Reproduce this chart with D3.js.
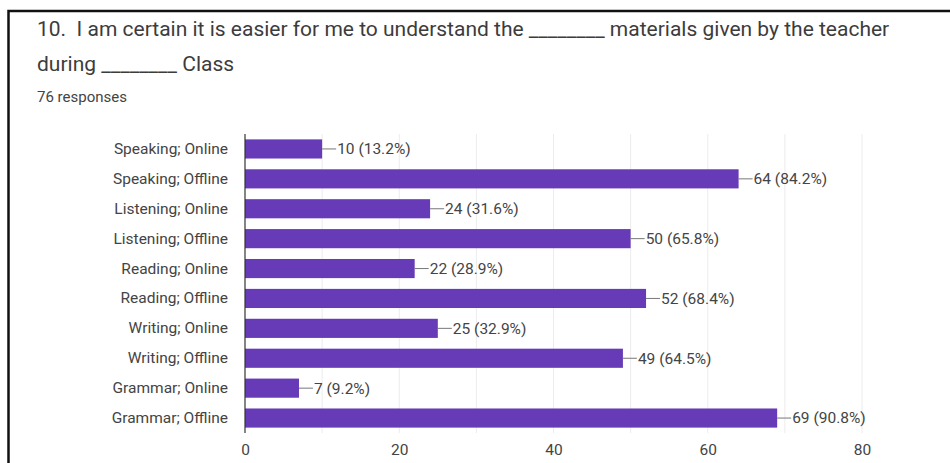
<!DOCTYPE html>
<html><head><meta charset="utf-8">
<script src="https://cdn.jsdelivr.net/npm/d3@7"></script>
<style>
html,body{margin:0;padding:0;background:#fff;}
svg{display:block;font-family:Roboto,"Noto Sans",sans-serif;}
text{white-space:pre;}
</style></head>
<body>
<svg id="chart" width="950" height="463"></svg>
<script>
const categories = ["Speaking; Online","Speaking; Offline","Listening; Online","Listening; Offline","Reading; Online","Reading; Offline","Writing; Online","Writing; Offline","Grammar; Online","Grammar; Offline"];
const counts = [10,64,24,50,22,52,25,49,7,69];
const percents = ["13.2%","84.2%","31.6%","65.8%","28.9%","68.4%","32.9%","64.5%","9.2%","90.8%"];
const xTicks = [0,20,40,60,80];
const gridTicks = [10,20,30,40,50,60,70,80];
const titleLine1 = "10.  I am certain it is easier for me to understand the ________ materials given by the teacher";
const titleLine2 = "during ________ Class";
const subtitle = "76 responses";

const svg = d3.select("#chart");
// border (left and top)
svg.append("path").attr("d","M8.5,463 L8.5,11 L950,11").attr("fill","none").attr("stroke","#111").attr("stroke-width",2.5);

svg.append("text").attr("x",37).attr("y",36).attr("font-size",21).attr("fill","#3c3c3c").text(titleLine1);
svg.append("text").attr("x",37).attr("y",71).attr("font-size",21).attr("fill","#3c3c3c").text(titleLine2);
svg.append("text").attr("x",37).attr("y",102).attr("font-size",15).attr("fill","#444").text(subtitle);

const x = d3.scaleLinear().domain([0,80]).range([245,862]);
const y = d3.scaleBand().domain(categories).range([134,433]).paddingInner(0.36).paddingOuter(0.18);

// gridlines
svg.append("g").selectAll("line").data(gridTicks).join("line")
  .attr("x1",d=>x(d)).attr("x2",d=>x(d)).attr("y1",134).attr("y2",433)
  .attr("stroke","#ececec").attr("stroke-width",1);

// bars
svg.append("g").selectAll("rect").data(counts).join("rect")
  .attr("x",x(0)).attr("y",(d,i)=>y(categories[i]))
  .attr("width",d=>x(d)-x(0)).attr("height",y.bandwidth())
  .attr("fill","#673ab7");

// leader lines and labels
const lab = svg.append("g");
counts.forEach((d,i)=>{
  const cy = y(categories[i]) + y.bandwidth()/2;
  lab.append("line").attr("x1",x(d)).attr("x2",x(d)+14).attr("y1",cy).attr("y2",cy).attr("stroke","#777").attr("stroke-width",1);
  lab.append("text").attr("x",x(d)+15).attr("y",cy).attr("dy","0.35em").attr("font-size",15.5).attr("fill","#444")
    .text(d + " (" + percents[i] + ")");
});

// y axis
const yAxis = svg.append("g").attr("transform",`translate(${x(0)},0)`).call(d3.axisLeft(y).tickSize(0).tickPadding(17));
yAxis.select(".domain").attr("stroke","#333").attr("stroke-width",1.2).attr("d","M0,134V433");
yAxis.selectAll("text").attr("font-size",15.5).attr("fill","#444").attr("font-family","Roboto,sans-serif");

// x axis
const xAxis = svg.append("g").attr("transform","translate(0,433)").call(d3.axisBottom(x).tickValues(xTicks).tickSize(0).tickPadding(11));
xAxis.select(".domain").remove();
xAxis.selectAll("text").attr("font-size",15.5).attr("fill","#444").attr("font-family","Roboto,sans-serif");
</script>
</body></html>
